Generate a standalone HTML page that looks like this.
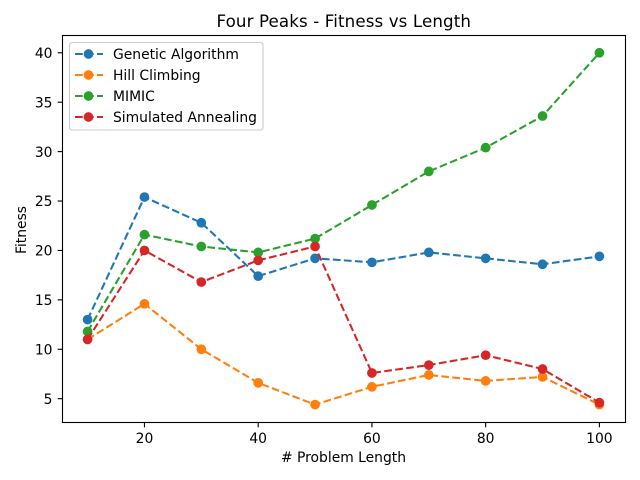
<!DOCTYPE html>
<html>
<head>
<meta charset="utf-8">
<style>
html,body{margin:0;padding:0;background:#fff;}
svg{display:block;}
text{font-family:"DejaVu Sans","Liberation Sans",sans-serif;font-size:13.89px;fill:#000;}
</style>
</head>
<body>
<svg id="chart" width="640" height="480" viewBox="0 0 640 480" xmlns="http://www.w3.org/2000/svg">
  <rect x="0" y="0" width="640" height="480" fill="#fff"/>
  <text x="343.8" y="27" text-anchor="middle" style="font-size:16.67px;letter-spacing:0.12px">Four Peaks - Fitness vs Length</text>
  <g id="series-layer"></g>
  <rect x="62.5" y="35.5" width="563" height="387" fill="none" stroke="#000" stroke-width="1.11"/>
  <g id="tick-layer"></g>
  <text x="343.5" y="462" text-anchor="middle"># Problem Length</text>
  <text transform="translate(26,230) rotate(-90)" text-anchor="middle">Fitness</text>
  <g id="legend"></g>
</svg>
<script>
const lengths = [10, 20, 30, 40, 50, 60, 70, 80, 90, 100];
const geneticAlgorithm = [13, 25.4, 22.8, 17.4, 19.2, 18.8, 19.8, 19.2, 18.6, 19.4];
const hillClimbing = [11, 14.6, 10, 6.6, 4.4, 6.2, 7.4, 6.8, 7.2, 4.4];
const mimic = [11.8, 21.6, 20.4, 19.8, 21.2, 24.6, 28, 30.4, 33.6, 40];
const simulatedAnnealing = [11, 20, 16.8, 19, 20.4, 7.6, 8.4, 9.4, 8, 4.6];
const xTicks = [20, 40, 60, 80, 100];
const yTicks = [5, 10, 15, 20, 25, 30, 35, 40];
const seriesNames = ["Genetic Algorithm", "Hill Climbing", "MIMIC", "Simulated Annealing"];
const seriesColors = ["#1f77b4", "#ff7f0e", "#2ca02c", "#d62728"];
const seriesValues = [geneticAlgorithm, hillClimbing, mimic, simulatedAnnealing];

const NS = "http://www.w3.org/2000/svg";
const plot = { left: 62, right: 625, top: 35.2, bottom: 422.2 };
const DASH = "7.7 3.33";

function extent(values) {
  const lo = Math.min.apply(null, values);
  const hi = Math.max.apply(null, values);
  const pad = (hi - lo) * 0.05;
  return [lo - pad, hi + pad];
}
const xDomain = extent(lengths);
const yDomain = extent([].concat(geneticAlgorithm, hillClimbing, mimic, simulatedAnnealing));
function xScale(v) {
  return plot.left + (v - xDomain[0]) / (xDomain[1] - xDomain[0]) * (plot.right - plot.left);
}
function yScale(v) {
  return plot.bottom - (v - yDomain[0]) / (yDomain[1] - yDomain[0]) * (plot.bottom - plot.top);
}
function make(tag, attrs, parent) {
  const el = document.createElementNS(NS, tag);
  for (const k in attrs) el.setAttribute(k, attrs[k]);
  parent.appendChild(el);
  return el;
}
function slug(s) {
  return s.toLowerCase().replace(/\s+/g, "-");
}

const seriesLayer = document.getElementById("series-layer");
seriesValues.forEach(function (values, i) {
  const color = seriesColors[i];
  const group = make("g", {}, seriesLayer);
  
  
  const pts = values.map(function (v, j) { return xScale(lengths[j]).toFixed(2) + "," + yScale(v).toFixed(2); }).join(" ");
  const line = make("polyline", { points: pts, fill: "none", stroke: color, "stroke-width": 2.08, "stroke-dasharray": DASH }, group);
  
  
  values.forEach(function (v, j) {
    const dot = make("circle", { cx: xScale(lengths[j]), cy: yScale(v), r: 4.86, fill: color }, group);
    
    
  });
});

const tickLayer = document.getElementById("tick-layer");
xTicks.forEach(function (t) {
  const x = xScale(t);
  const mark = make("line", { x1: x, x2: x, y1: 422.5, y2: 427.36, stroke: "#000", "stroke-width": 1.11 }, tickLayer);
  
  
  const label = make("text", { x: x, y: 443, "text-anchor": "middle" }, tickLayer);
  
  
  label.textContent = t;
});
yTicks.forEach(function (t) {
  const y = yScale(t);
  const mark = make("line", { x1: 57.64, x2: 62.5, y1: y, y2: y, stroke: "#000", "stroke-width": 1.11 }, tickLayer);
  
  
  const label = make("text", { x: 52.5, y: y + 5.2, "text-anchor": "end" }, tickLayer);
  
  
  label.textContent = t;
});

const legend = document.getElementById("legend");
const legendBox = make("rect", { x: 69.5, y: 42.5, width: 193.5, height: 87.5, rx: 2.8, fill: "#fff", "fill-opacity": 0.8, stroke: "#ccc", "stroke-width": 1.11 }, legend);


seriesNames.forEach(function (name, i) {
  const rowY = 54 + i * 21;
  const row = make("g", {}, legend);
  
  
  const swatch = make("line", { x1: 75, x2: 103, y1: rowY, y2: rowY, stroke: seriesColors[i], "stroke-width": 2.08, "stroke-dasharray": DASH }, row);
  
  
  const dot = make("circle", { cx: 88.5, cy: rowY, r: 4.86, fill: seriesColors[i] }, row);
  
  
  const label = make("text", { x: 113, y: rowY + 5 }, row);
  
  
  label.textContent = name;
});
</script>
</body>
</html>
